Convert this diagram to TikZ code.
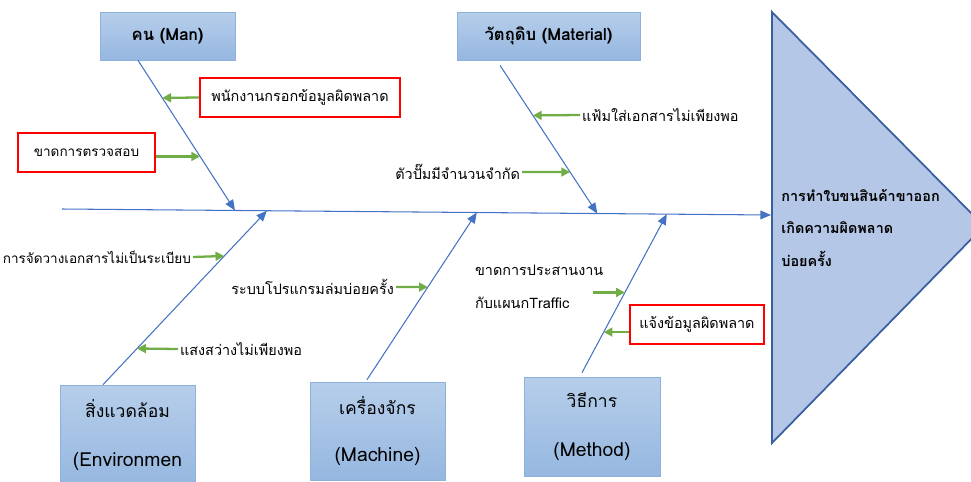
\documentclass[tikz,border=0pt]{standalone}
\usepackage{fontspec}
\newfontfamily\thai[Script=Thai]{Loma}
\usepackage{xcolor}
\usetikzlibrary{positioning,arrows.meta,calc}
\definecolor{bone}{HTML}{4472C4}
\definecolor{causegreen}{HTML}{70AD47}
\definecolor{boxtop}{HTML}{B6CEEA}
\definecolor{boxbot}{HTML}{96B7E0}
\definecolor{boxline}{HTML}{8EB0DC}
\definecolor{headfill}{HTML}{B4C7E7}
\definecolor{headline}{HTML}{3A5FA0}

\begin{document}
\begin{tikzpicture}[x=0.02cm,y=-0.02cm,font=\thai,
		catbox/.style={draw=boxline, top color=boxtop, bottom color=boxbot,
			minimum width=2.7cm, inner sep=0pt, align=center},
		bonearr/.style={draw=bone, line width=0.6pt, -{Triangle[length=6pt,width=5pt]}},
		cause/.style={draw=causegreen, line width=1.3pt, -{Triangle[length=5pt,width=5pt]}},
		redbox/.style={draw=red, line width=0.9pt, minimum height=0.78cm, font=\thai\fontsize{8.2}{9}\selectfont},
		lbl/.style={inner sep=1pt, font=\thai\fontsize{8.2}{9}\selectfont}]
	\useasboundingbox (0,0) rectangle (971,481);

	% head of the fish
	\filldraw[fill=headfill, draw=headline, line width=1pt] (772,12) -- (984,226) -- (772,443) -- cycle;
	\node[anchor=west, align=left, inner sep=0pt, font=\thai\bfseries\fontsize{8.2}{18.7}\selectfont] (effect) at (781,228)
		{การทำใบขนสินค้าขาออก\\เกิดความผิดพลาด\\บ่อยครั้ง};

	% spine
	\coordinate (tail) at (62,209);
	\coordinate (head) at (771,215);
	\draw[bonearr] (tail) -- (head);

	% categories
	\node[catbox, minimum height=0.96cm, font=\thai\bfseries\fontsize{9.5}{10}\selectfont] (man) at (167.5,36) {คน (Man)};
	\node[catbox, minimum width=3.66cm, minimum height=0.96cm, font=\thai\bfseries\fontsize{9.5}{10}\selectfont] (material) at (548.5,36) {วัตถุดิบ (Material)};
	\node[catbox, minimum height=2cm, font=\thai\fontsize{11}{28}\selectfont] (env) at (127.5,435) {{\fontsize{10}{28}\selectfont สิ่งแวดล้อม}\\(Environmen};
	\node[catbox, minimum height=1.96cm, font=\thai\fontsize{11}{27}\selectfont] (machine) at (377.5,431) {{\fontsize{10}{27}\selectfont เครื่องจักร}\\(Machine)};
	\node[catbox, minimum width=2.72cm, minimum height=1.98cm, font=\thai\fontsize{11}{28}\selectfont] (method) at (592,426.5) {{\fontsize{10}{28}\selectfont วิธีการ}\\(Method)};

	% bones
	\coordinate (tipman) at ($(tail)!0.244!(head)$);
	\coordinate (tipenv) at ($(tail)!0.289!(head)$);
	\coordinate (tipmac) at ($(tail)!0.585!(head)$);
	\coordinate (tipmat) at ($(tail)!0.755!(head)$);
	\coordinate (tipmet) at ($(tail)!0.853!(head)$);
	\coordinate (rootman) at ($(man.south)+(-29.5,0)$);
	\coordinate (rootmat) at ($(material.south)+(-48.5,5)$);
	\coordinate (rootenv) at ($(env.north)+(-24.5,0)$);
	\coordinate (rootmac) at ($(machine.north)+(-10.5,-2)$);
	\coordinate (rootmet) at ($(method.north)+(-10,-4)$);
	\draw[bonearr] (rootman) -- (tipman);
	\draw[bonearr] (rootmat) -- (tipmat);
	\draw[bonearr] (rootenv) -- (tipenv);
	\draw[bonearr] (rootmac) -- (tipmac);
	\draw[bonearr] (rootmet) -- (tipmet);

	% points where the causes meet the bones
	\coordinate (man1) at ($(rootman)!0.25!(tipman)$);
	\coordinate (man2) at ($(rootman)!0.64!(tipman)$);
	\coordinate (mat1) at ($(rootmat)!0.338!(tipmat)$);
	\coordinate (mat2) at ($(rootmat)!0.72!(tipmat)$);
	\coordinate (env1) at ($(rootenv)!0.74!(tipenv)$);
	\coordinate (env2) at ($(rootenv)!0.208!(tipenv)$);
	\coordinate (mac1) at ($(rootmac)!0.554!(tipmac)$);
	\coordinate (met1) at ($(rootmet)!0.506!(tipmet)$);
	\coordinate (met2) at ($(rootmet)!0.256!(tipmet)$);

	% causes
	\node[redbox, minimum width=4cm] (wrongdata) at (300,97.5) {พนักงานกรอกข้อมูลผิดพลาด};
	\node[redbox, minimum width=2.74cm, font=\thai\fontsize{7.7}{9}\selectfont] (nocheck) at (86.5,152.5) {ขาดการตรวจสอบ};
	\node[redbox, minimum width=2.68cm] (wronginfo) at (697,324.5) {แจ้งข้อมูลผิดพลาด};
	\node[lbl, anchor=west] (folder) at (580,115) {แฟ้มใส่เอกสารไม่เพียงพอ};
	\node[lbl, anchor=east] (stamp) at (522,172) {ตัวปั๊มมีจำนวนจำกัด};
	\node[lbl, anchor=east, font=\thai\fontsize{7.7}{9}\selectfont] (filing) at (193,257) {การจัดวางเอกสารไม่เป็นระเบียบ};
	\node[lbl, anchor=west] (light) at (178,349) {แสงสว่างไม่เพียงพอ};
	\node[lbl, anchor=east] (crash) at (396,287) {ระบบโปรแกรมล่มบ่อยครั้ง};
	\node[lbl, anchor=west, align=left, font=\thai\fontsize{8.2}{19}\selectfont] (coord) at (473,287)
		{ขาดการประสานงาน\\กับแผนกTraffic};
	\coordinate (coordarr) at (593,294);

	\draw[cause] (wrongdata.west) -- (man1);
	\draw[cause] (nocheck.east |- man2) -- (man2);
	\draw[cause] (folder.west) -- (mat1);
	\draw[cause] (stamp.east) -- (mat2);
	\draw[cause] (filing.east) -- (env1);
	\draw[cause] (light.west) -- (env2);
	\draw[cause] (crash.east) -- (mac1);
	\draw[cause] (coordarr |- met1) -- (met1);
	\draw[cause] (wronginfo.west |- met2) -- (met2);
\end{tikzpicture}
\end{document}
